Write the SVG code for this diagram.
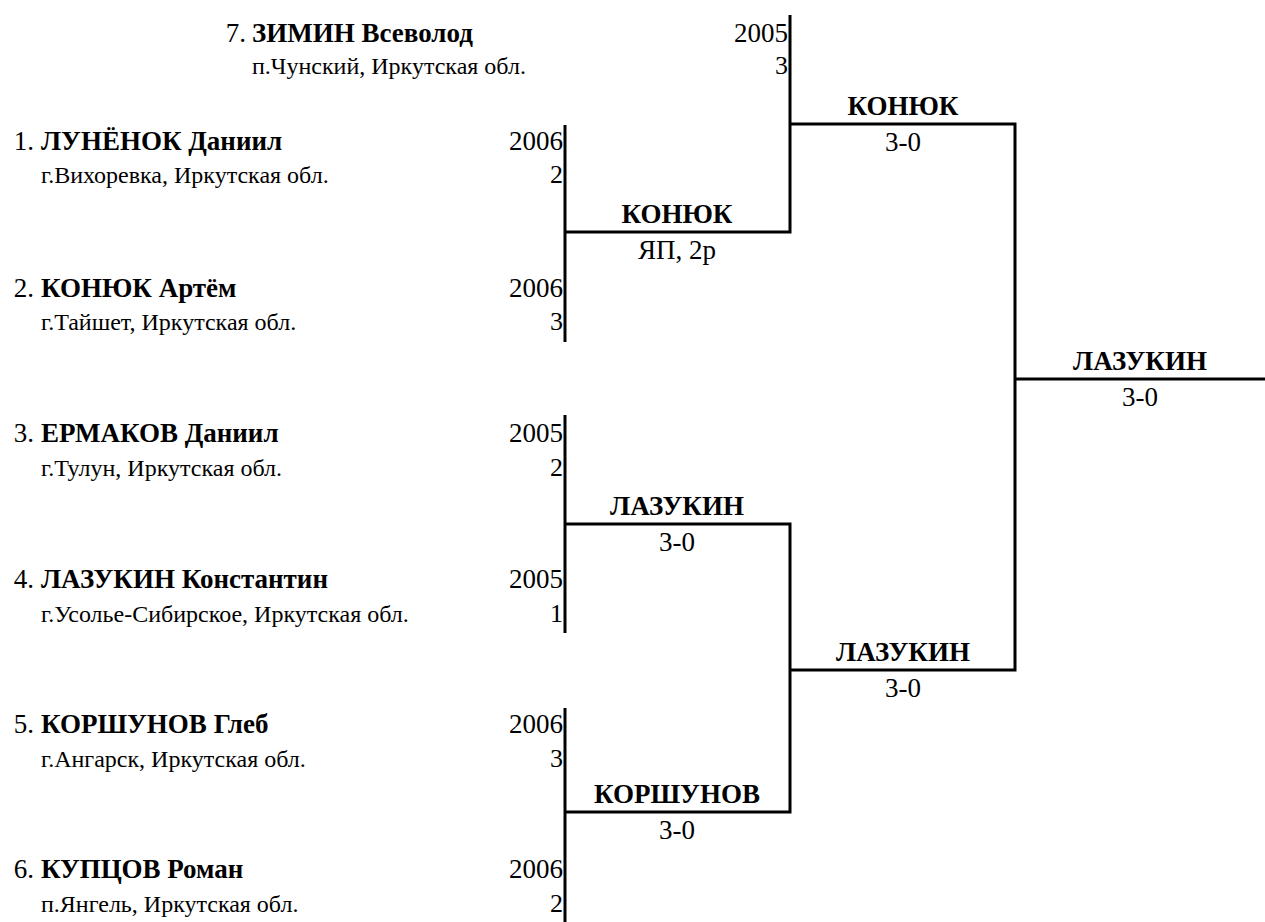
<svg xmlns="http://www.w3.org/2000/svg" width="1265" height="922" viewBox="0 0 1265 922">
<style>
text{font-family:'Liberation Serif','Times New Roman',serif;fill:#000}
.num{font-size:27px;text-anchor:end}
.name{font-size:27px;font-weight:bold}
.loc{font-size:24px}
.yr{font-size:27px;text-anchor:end}
.seed{font-size:26px;text-anchor:end}
.win{font-size:27px;font-weight:bold;text-anchor:middle}
.sc{font-size:27px;text-anchor:middle}
.ln{stroke:#000;stroke-width:3;fill:none}
</style>
<rect width="1265" height="922" fill="#fff"/>
<g id="connectors">
<polyline class="ln" points="790,15 790,232 565,232"/>
<line class="ln" x1="565" y1="125" x2="565" y2="342"/>
<line class="ln" x1="565" y1="415" x2="565" y2="633"/>
<line class="ln" x1="565" y1="708" x2="565" y2="922"/>
<polyline class="ln" points="565,524 790,524 790,812 565,812"/>
<polyline class="ln" points="790,124 1015,124 1015,670 790,670"/>
<line class="ln" x1="1015" y1="379" x2="1265" y2="379"/>
</g>
<g id="player7">
<text class="num" x="246" y="42">7.</text>
<text class="name" x="252" y="42">ЗИМИН Всеволод</text>
<text class="loc" x="252" y="74">п.Чунский, Иркутская обл.</text>
<text class="yr" x="788" y="42">2005</text>
<text class="seed" x="788" y="74">3</text>
</g>
<g id="player1">
<text class="num" x="34" y="150">1.</text>
<text class="name" x="41" y="150">ЛУНЁНОК Даниил</text>
<text class="loc" x="41" y="183">г.Вихоревка, Иркутская обл.</text>
<text class="yr" x="563" y="150">2006</text>
<text class="seed" x="563" y="183">2</text>
</g>
<g id="player2">
<text class="num" x="34" y="297">2.</text>
<text class="name" x="41" y="297">КОНЮК Артём</text>
<text class="loc" x="41" y="330">г.Тайшет, Иркутская обл.</text>
<text class="yr" x="563" y="297">2006</text>
<text class="seed" x="563" y="330">3</text>
</g>
<g id="player3">
<text class="num" x="34" y="442">3.</text>
<text class="name" x="41" y="442">ЕРМАКОВ Даниил</text>
<text class="loc" x="41" y="476">г.Тулун, Иркутская обл.</text>
<text class="yr" x="563" y="442">2005</text>
<text class="seed" x="563" y="476">2</text>
</g>
<g id="player4">
<text class="num" x="34" y="588">4.</text>
<text class="name" x="41" y="588">ЛАЗУКИН Константин</text>
<text class="loc" x="41" y="622">г.Усолье-Сибирское, Иркутская обл.</text>
<text class="yr" x="563" y="588">2005</text>
<text class="seed" x="563" y="622">1</text>
</g>
<g id="player5">
<text class="num" x="34" y="733">5.</text>
<text class="name" x="41" y="733">КОРШУНОВ Глеб</text>
<text class="loc" x="41" y="767">г.Ангарск, Иркутская обл.</text>
<text class="yr" x="563" y="733">2006</text>
<text class="seed" x="563" y="767">3</text>
</g>
<g id="player6">
<text class="num" x="34" y="878">6.</text>
<text class="name" x="41" y="878">КУПЦОВ Роман</text>
<text class="loc" x="41" y="912">п.Янгель, Иркутская обл.</text>
<text class="yr" x="563" y="878">2006</text>
<text class="seed" x="563" y="912">2</text>
</g>
<g id="match-1-2">
<text class="win" x="677" y="223">КОНЮК</text>
<text class="sc" x="677" y="259">ЯП, 2р</text>
</g>
<g id="match-3-4">
<text class="win" x="677" y="515">ЛАЗУКИН</text>
<text class="sc" x="677" y="551">3-0</text>
</g>
<g id="match-5-6">
<text class="win" x="677" y="803">КОРШУНОВ</text>
<text class="sc" x="677" y="839">3-0</text>
</g>
<g id="match-7">
<text class="win" x="903" y="115">КОНЮК</text>
<text class="sc" x="903" y="151">3-0</text>
</g>
<g id="match-semi">
<text class="win" x="903" y="661">ЛАЗУКИН</text>
<text class="sc" x="903" y="697">3-0</text>
</g>
<g id="match-final">
<text class="win" x="1140" y="370">ЛАЗУКИН</text>
<text class="sc" x="1140" y="406">3-0</text>
</g>
</svg>
